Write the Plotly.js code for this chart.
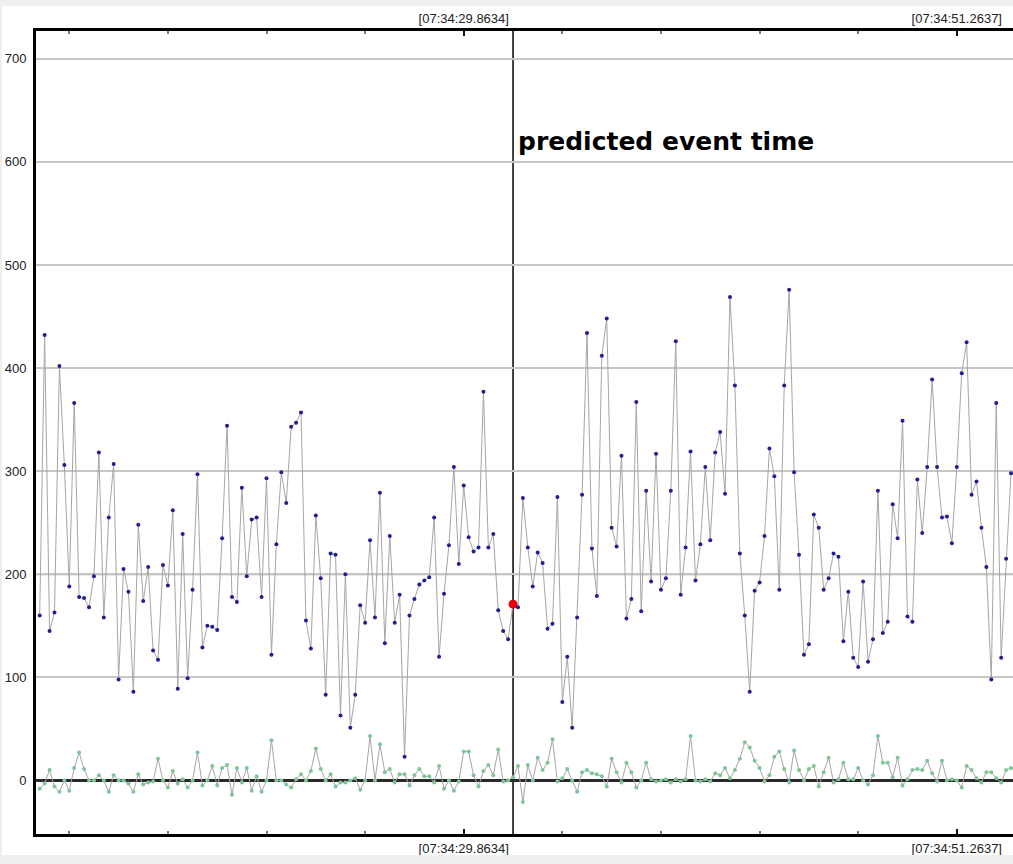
<!DOCTYPE html>
<html>
<head>
<meta charset="utf-8">
<script src="https://cdn.plot.ly/plotly-3.0.1.min.js"></script>
<style>
  html, body { margin: 0; padding: 0; background: #efefef; }
  #chart { position: absolute; left: 2px; top: 6px; width: 1011px; height: 849px; }
</style>
</head>
<body>
<div id="chart"></div>
<script>
// ---- data ----
const blueValues = [
  160,432,145,163,402,306,188,366,178,177, 168,198,318,158,255,307,98,205,183,86,
  248,174,207,126,117,209,189,262,89,239, 99,185,297,129,150,149,146,235,344,178,
  173,284,198,253,255,178,293,122,229,299, 269,343,347,357,155,128,257,196,83,220,
  219,63,200,51,83,170,153,233,158,279, 133,237,153,180,23,160,176,190,194,197,
  255,120,181,228,304,210,286,236,222,226, 377,226,239,165,145,137,171,168,274,226,
  188,221,211,147,152,275,76,120,51,158, 277,434,225,179,412,448,245,227,315,157,
  176,367,164,281,193,317,185,196,281,426, 180,226,319,194,229,304,233,318,338,278,
  469,383,220,160,86,184,192,237,322,295, 185,383,476,299,219,122,132,258,245,185,
  196,220,217,135,183,119,110,193,115,137, 281,143,154,268,235,349,159,154,292,240,
  304,389,304,255,256,230,304,395,425,277, 290,245,207,98,366,119,215,298
];
const greenValues = [
  -8,-3,10,-6,-11,0,-10,12,27,11, 0,0,5,0,-11,5,0,0,-3,-11,
  6,-4,-2,-1,21,0,-7,9,-3,1, -7,0,27,-5,0,14,-5,12,15,-14,
  12,-2,12,-10,4,-11,0,39,0,0, -4,-7,1,6,0,9,31,11,0,6,
  -6,-2,-2,0,2,-9,0,43,0,35, 8,11,-2,6,6,-5,5,11,4,4,
  -2,14,-8,0,-10,-1,28,28,5,-6, 9,15,5,30,-1,0,3,14,-21,15,
  0,22,10,17,40,-1,2,11,0,-11, 8,10,7,6,4,-6,21,8,-2,17,
  8,-7,0,17,1,-1,0,1,-2,1, -1,1,43,0,-1,1,-1,7,5,12,
  2,10,21,37,32,19,12,-1,5,23, 28,11,-2,29,10,0,11,14,-6,8,
  22,-2,1,17,1,1,12,0,-4,5, 43,17,17,3,22,-5,1,10,11,10,
  19,7,-1,19,0,1,0,-7,14,10, 2,-2,8,8,2,-2,10,12
];
const eventIndex = 96;
const eventValue = 171;
const eventLabel = "predicted event time";
const tickSamples = [86, 186];
const tickLabels = ["[07:34:29.8634]", "[07:34:51.2637]"];
const minorTickSamples = [6, 26, 46, 66, 106, 126, 146, 166];
const yTicks = [0, 100, 200, 300, 400, 500, 600, 700];
const darkGridValues = [200, 400, 600];

const sampleIndex = blueValues.map((_, i) => i);
const xRange = [-0.75, 197.4];
const yRange = [-52, 727];

const labelFont = { family: "Liberation Sans, Arial, sans-serif", size: 13, color: "#222" };

const traces = [
  {
    x: sampleIndex, y: greenValues, type: "scatter", mode: "lines+markers",
    line: { color: "#a6a6a6", width: 1 },
    marker: { color: "#7cc795", size: 4 },
    hoverinfo: "skip", showlegend: false
  },
  {
    x: sampleIndex, y: blueValues, type: "scatter", mode: "lines+markers",
    line: { color: "#a6a6a6", width: 1 },
    marker: { color: "#1e1e96", size: 4 },
    hoverinfo: "skip", showlegend: false
  },
  {
    x: [eventIndex], y: [eventValue], type: "scatter", mode: "markers",
    xaxis: "x2",
    marker: { color: "#e8000b", size: 9 },
    hoverinfo: "skip", showlegend: false
  }
];

const axisX = {
  range: xRange, showgrid: false, zeroline: false,
  showline: true, linecolor: "#000", linewidth: 3,
  tickmode: "array", tickvals: tickSamples, ticktext: tickLabels,
  ticks: "inside", ticklen: 5, tickwidth: 2, tickcolor: "#111",
  tickfont: labelFont,
  minor: { tickmode: "array", tickvals: minorTickSamples, ticks: "inside", ticklen: 3, tickwidth: 2, tickcolor: "#777", showgrid: false }
};

const layout = {
  width: 1011, height: 849,
  margin: { l: 34, r: 0, t: 25, b: 21, pad: 0 },
  paper_bgcolor: "#ffffff", plot_bgcolor: "#ffffff",
  showlegend: false,
  xaxis: Object.assign({}, axisX, { side: "bottom", anchor: "y" }),
  xaxis2: Object.assign({}, axisX, { side: "top", overlaying: "x", anchor: "y" }),
  yaxis: {
    range: yRange, tickmode: "array", tickvals: yTicks,
    showgrid: true, gridcolor: "#c6c6c6", gridwidth: 2,
    zeroline: true, zerolinecolor: "#2a2a2a", zerolinewidth: 3,
    showline: true, linecolor: "#000", linewidth: 3,
    ticks: "", tickfont: labelFont, ticklabelstandoff: 4
  },
  shapes: darkGridValues.map(v => ({
    type: "line", xref: "paper", yref: "y", x0: 0, x1: 1, y0: v, y1: v,
    line: { color: "#a2a2a2", width: 2 }, layer: "below"
  })).concat([{
    type: "line", xref: "x", yref: "paper", x0: eventIndex, x1: eventIndex, y0: 0, y1: 1,
    line: { color: "#000", width: 1.5 }, layer: "between"
  }]),
  annotations: [{
    text: eventLabel, xref: "x", yref: "paper", x: eventIndex, y: 0.862,
    xanchor: "left", yanchor: "middle", xshift: 3, showarrow: false,
    font: { family: "DejaVu Sans, sans-serif", size: 25, color: "#000", weight: "bold" }
  }]
};

Plotly.newPlot("chart", traces, layout, { displayModeBar: false, staticPlot: true });
</script>
</body>
</html>
